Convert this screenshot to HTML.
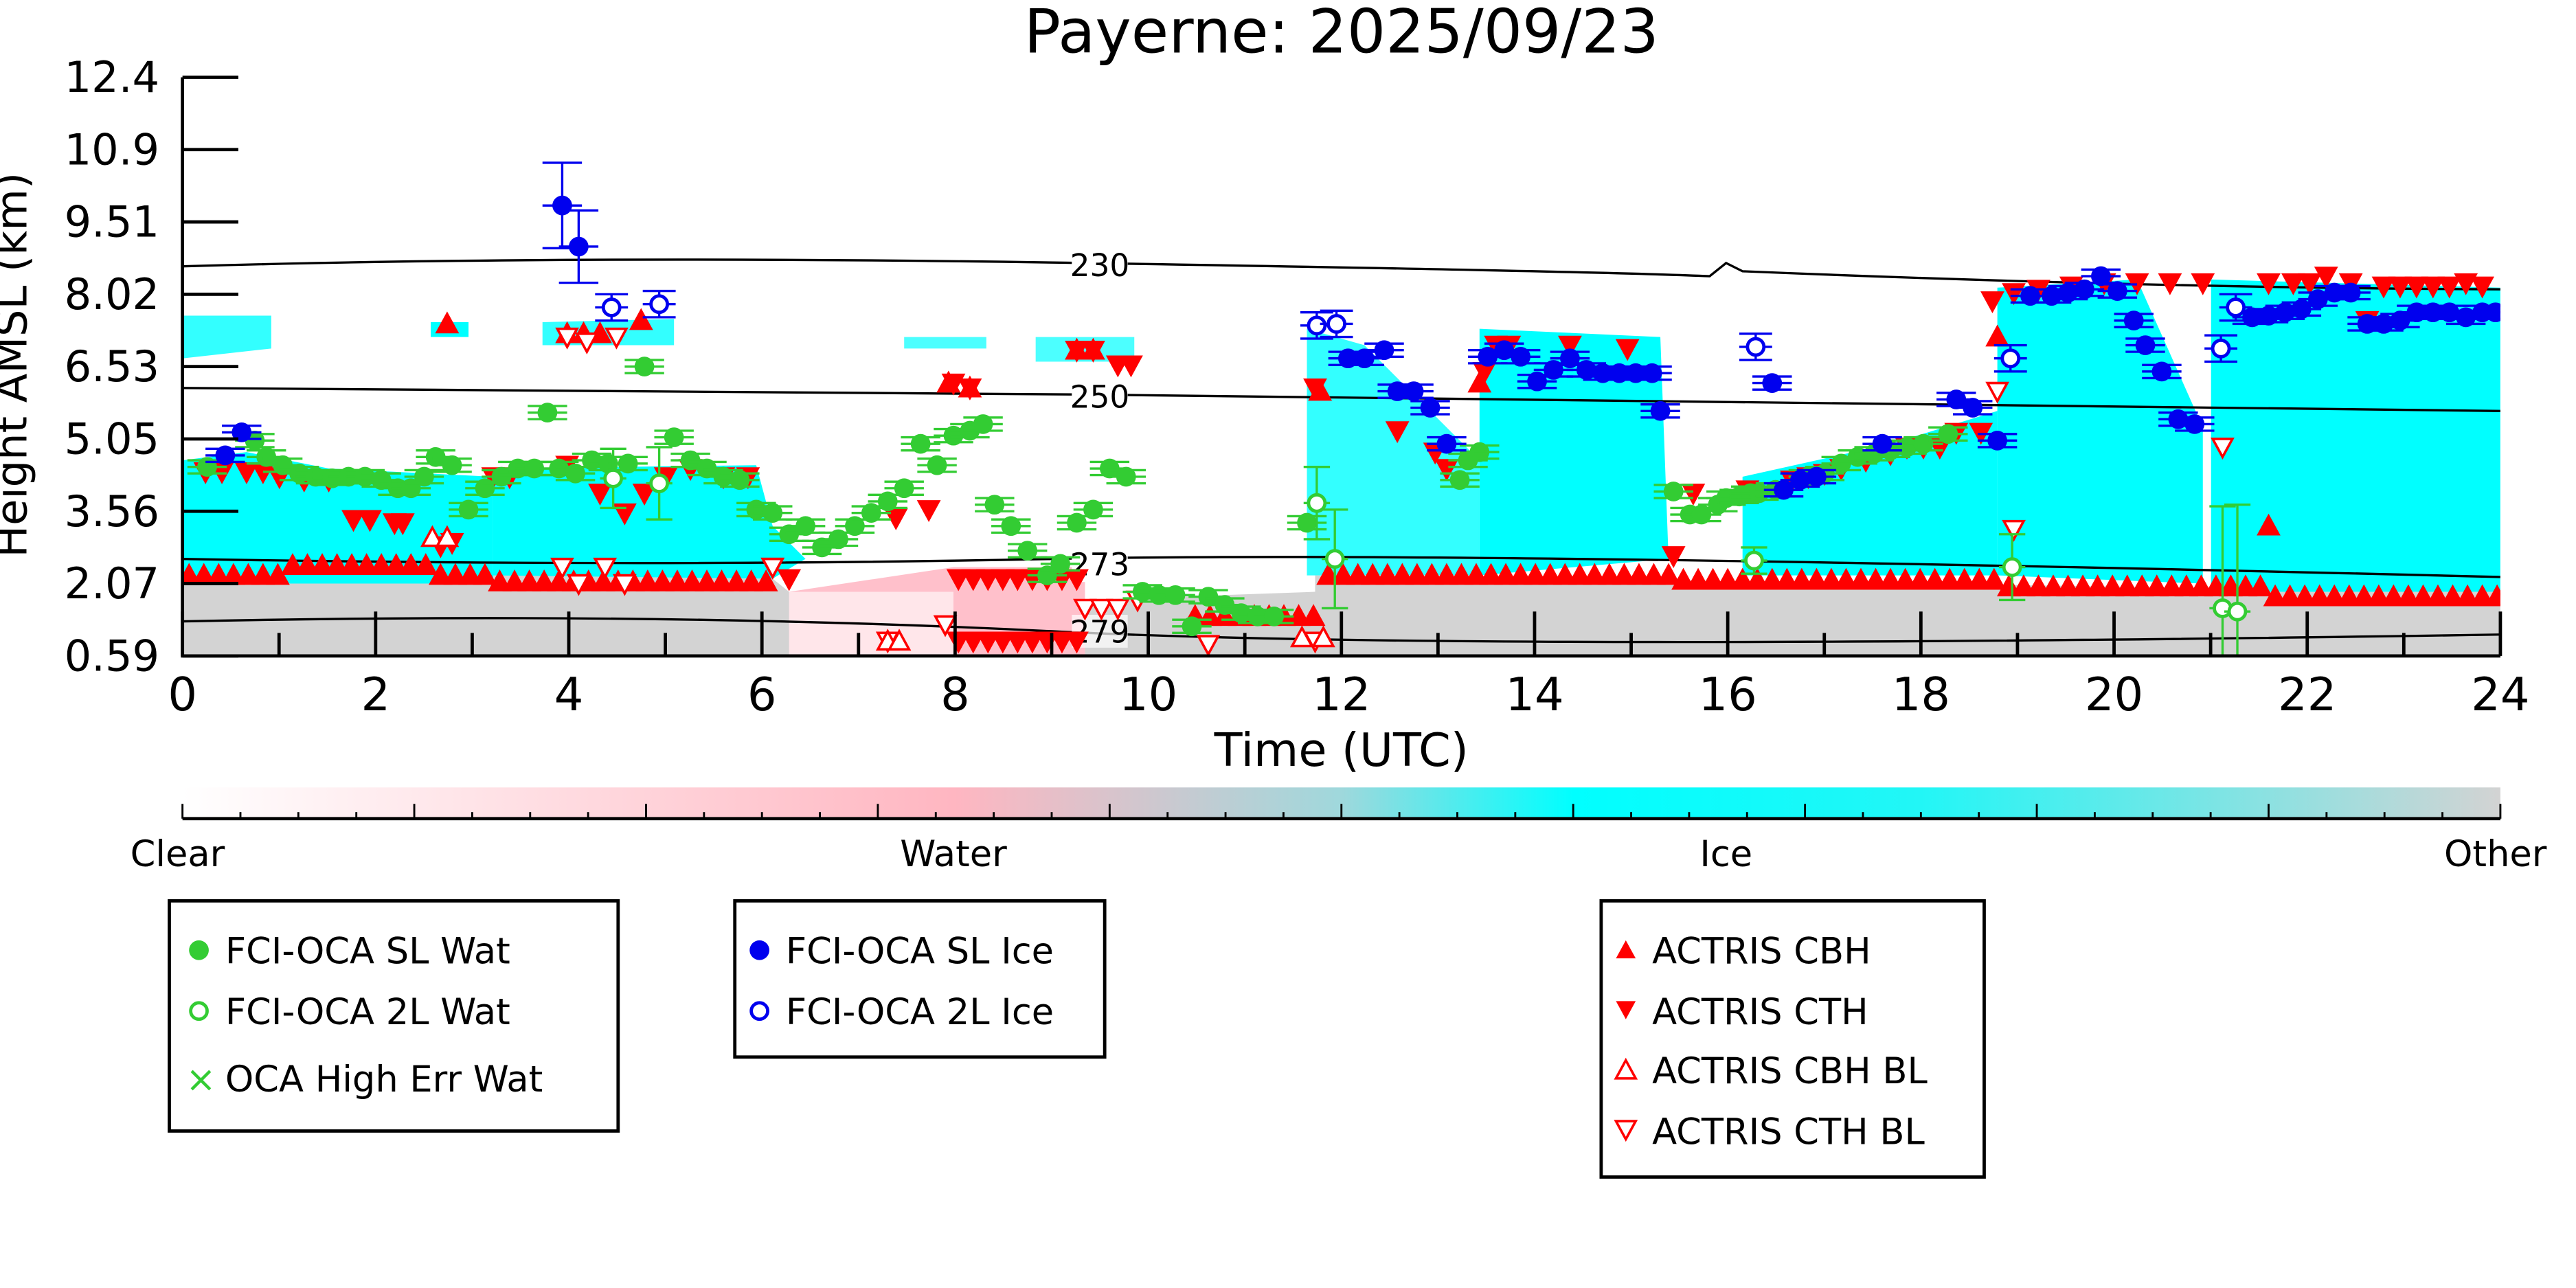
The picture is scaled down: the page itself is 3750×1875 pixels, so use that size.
<!DOCTYPE html>
<html><head><meta charset="utf-8"><style>html,body{margin:0;padding:0;background:#fff}svg{display:block}text{font-family:"DejaVu Sans","Liberation Sans",sans-serif}</style></head>
<body>
<svg id="s" xmlns="http://www.w3.org/2000/svg" width="3750" height="1875" viewBox="0 0 1567 783.5">
<defs>
<linearGradient id="cb" x1="0" x2="1">
<stop offset="0" stop-color="#ffffff"/><stop offset="0.333" stop-color="#ffb6c1"/><stop offset="0.5" stop-color="#9fd8dc"/><stop offset="0.6" stop-color="#00ffff"/><stop offset="0.75" stop-color="#22f6f6"/><stop offset="1" stop-color="#d3d3d3"/>
</linearGradient>
<clipPath id="pc"><rect x="111" y="47" width="1410" height="352"/></clipPath>
</defs>
<text x="816" y="32" font-size="37" text-anchor="middle">Payerne: 2025/09/23</text>
<g clip-path="url(#pc)">
<path d="M111,352 L300,350 L300,345 L470,352 L480,360 L580,360 L580,399 L111,399Z" fill="#d3d3d3"/>
<path d="M480,360 L580,345 L660,345 L660,399 L480,399Z" fill="#ffc0cb"/>
<path d="M660,365 L800,360 L800,350 L1521,360 L1521,399 L660,399Z" fill="#d3d3d3"/>
<rect x="480" y="360" width="100" height="39" fill="#fff" opacity="0.6"/>
<g fill="#00ffff">
<path d="M111,280 L150,275 L200,285 L300,290 L300,355 L111,355Z"/>
<path d="M111,192 L165,192 L165,212 L111,218Z" opacity="0.8"/>
<path d="M262,196 L285,196 L285,205 L262,205Z"/>
<path d="M330,196 L410,194 L410,210 L330,210Z" opacity="0.8"/>
<path d="M300,285 L460,283 L470,320 L490,340 L470,352 L300,350Z"/>
<path d="M550,205 L600,205 L600,212 L550,212Z" opacity="0.7"/>
<path d="M630,205 L690,205 L690,220 L630,220Z" opacity="0.7"/>
<path d="M795,200 L830,210 L870,250 L900,280 L900,350 L795,350Z" opacity="0.8"/>
<path d="M900,200 L1010,205 L1015,340 L900,350Z"/>
<path d="M1060,290 L1150,270 L1215,250 L1215,350 L1060,350Z"/>
<path d="M1215,175 L1300,170 L1340,260 L1340,355 L1215,350Z"/>
<path d="M1345,170 L1521,175 L1521,360 L1345,360Z"/>
</g>
<g fill="none" stroke="#000" stroke-width="1.4">
<path d="M111,162 Q350,155 660,160 T1040,168 L1050,160 L1060,165 Q1300,175 1521,176"/>
<path d="M111,236 Q400,238 660,240 T1521,250"/>
<path d="M111,340 Q400,345 640,340 T1521,351"/>
<path d="M111,378 Q400,372 640,384 T1521,386"/>
</g>
<g font-size="19" text-anchor="middle">
<rect x="652" y="150" width="34" height="22" fill="#fff"/><text x="669" y="168">230</text>
<rect x="652" y="230" width="34" height="22" fill="#fff"/><text x="669" y="248">250</text>
<rect x="652" y="332" width="34" height="22" fill="#fff"/><text x="669" y="350">273</text>
<rect x="652" y="374" width="34" height="20" fill="#fff" opacity="0.7"/><text x="669" y="391">279</text>
</g>
<g id="mk"></g>
</g>
<g stroke="#000" stroke-width="2" fill="none">
<path d="M111,47 L111,399 L1521,399"/>
</g>
<g id="ax"></g>
<text x="816" y="466" font-size="28" text-anchor="middle">Time (UTC)</text>
<text transform="translate(16,222) rotate(-90)" font-size="26" text-anchor="middle">Height AMSL (km)</text>
<rect x="111" y="479" width="1410" height="18" fill="url(#cb)"/>
<path d="M111,498 L1521,498" stroke="#000" stroke-width="2"/>
<g id="cbt"></g>
<g font-size="22" text-anchor="middle">
<text x="108" y="527">Clear</text><text x="580" y="527">Water</text><text x="1050" y="527">Ice</text><text x="1518" y="527">Other</text>
</g>
<g fill="none" stroke="#000" stroke-width="2">
<rect x="103" y="548" width="273" height="140"/>
<rect x="447" y="548" width="225" height="95"/>
<rect x="974" y="548" width="233" height="168"/>
</g>
<g font-size="22">
<circle cx="121" cy="578" r="6" fill="#33cc33"/><text x="137" y="586">FCI-OCA SL Wat</text>
<circle cx="121" cy="615" r="5" fill="none" stroke="#33cc33" stroke-width="2"/><text x="137" y="623">FCI-OCA 2L Wat</text>
<text x="113" y="664" fill="#33cc33" font-size="22">×</text><text x="137" y="664">OCA High Err Wat</text>
<circle cx="462" cy="578" r="6" fill="#0000ee"/><text x="478" y="586">FCI-OCA SL Ice</text>
<circle cx="462" cy="615" r="5" fill="none" stroke="#0000ee" stroke-width="2"/><text x="478" y="623">FCI-OCA 2L Ice</text>
<path d="M989,572 L995,583 L983,583Z" fill="red"/><text x="1005" y="586">ACTRIS CBH</text>
<path d="M983,609 L995,609 L989,620Z" fill="red"/><text x="1005" y="623">ACTRIS CTH</text>
<path d="M989,645 L995,656 L983,656Z" fill="none" stroke="red" stroke-width="1.5"/><text x="1005" y="659">ACTRIS CBH BL</text>
<path d="M983,682 L995,682 L989,693Z" fill="none" stroke="red" stroke-width="1.5"/><text x="1005" y="696">ACTRIS CTH BL</text>
</g>
<script>
(function(){
var NS="http://www.w3.org/2000/svg";
function el(p,t,a,txt){var e=document.createElementNS(NS,t);for(var k in a)e.setAttribute(k,a[k]);if(txt)e.textContent=txt;p.appendChild(e);return e;}
var ax=document.getElementById('ax');
var yl=["12.4","10.9","9.51","8.02","6.53","5.05","3.56","2.07","0.59"];
for(var i=0;i<9;i++){var y=47+i*44;el(ax,'line',{x1:111,x2:145,y1:y,y2:y,stroke:'#000','stroke-width':2});
el(ax,'text',{x:97,y:y+9,'font-size':26,'text-anchor':'end'},yl[i]);}
for(var t=0;t<=24;t++){var x=111+58.75*t;var maj=t%2==0;
el(ax,'line',{x1:x,x2:x,y1:399,y2:maj?372:385,stroke:'#000','stroke-width':2});
if(maj)el(ax,'text',{x:x,y:432,'font-size':28,'text-anchor':'middle'},""+t);}
var cb=document.getElementById('cbt');
for(var i=0;i<=40;i++){var x=111+1410*i/40;el(cb,'line',{x1:x,x2:x,y1:498,y2:i%4==0?489:494,stroke:'#000','stroke-width':1.2});}
var m=document.getElementById('mk');
function up(x,y,f){el(m,'path',{d:'M'+x+','+(y-6)+' L'+(x+6)+','+(y+5)+' L'+(x-6)+','+(y+5)+'Z',fill:f?'red':'#fff',stroke:'red','stroke-width':1.5});}
function dn(x,y,f){el(m,'path',{d:'M'+(x-6)+','+(y-5)+' L'+(x+6)+','+(y-5)+' L'+x+','+(y+6)+'Z',fill:f?'red':'#fff',stroke:'red','stroke-width':1.5});}
function err(x,y,c,e,h){el(m,'path',{d:'M'+(x-h)+','+y+' L'+(x+h)+','+y+' M'+x+','+(y-e)+' L'+x+','+(y+e)+' M'+(x-h)+','+(y-e)+' L'+(x+h)+','+(y-e)+' M'+(x-h)+','+(y+e)+' L'+(x+h)+','+(y+e),stroke:c,'stroke-width':1.4,fill:'none'});}
for(var x=115;x<1521;x+=9){
 if(x>470&&x<575)continue; if(x>660&&x<720)continue;
 var y= x<300?350-(x>170&&x<260?6:0): x<470?354: x<800?375: x<1020?350:(x<1215?353:(x<1380?357:363));
 if(x>575&&x<660){dn(x,352,true);dn(x,390,true);continue;}
 up(x,y,true);}
var cth=[[125,287],[135,287],[150,287],[160,287],[170,290],[185,292],[200,292],[215,316],[225,316],[240,318],[245,318],[268,332],[275,330],[300,290],[310,290],[345,283],[365,300],[380,312],[392,300],[405,290],[420,285],[440,290],[455,290],[470,345],[480,352],[545,315],[565,310],[580,233],[590,236],[655,213],[665,213],[680,222],[688,222],[800,236],[850,262],[873,275],[880,285],[903,226],[910,210],[918,210],[955,210],[990,212],[1018,338],[1030,300],[1063,298],[1090,292],[1100,290],[1110,288],[1120,285],[1135,280],[1150,276],[1160,272],[1170,272],[1180,272],[1190,263],[1205,263],[1212,183],[1225,178],[1240,176],[1260,174],[1280,172],[1300,172],[1320,172],[1340,172],[1380,172],[1395,172],[1405,172],[1415,168],[1430,172],[1440,195],[1450,174],[1460,174],[1470,174],[1480,174],[1490,174],[1500,172],[1510,174]];
cth.forEach(function(p){dn(p[0],p[1],true);});
[[272,197],[345,203],[355,203],[365,203],[390,195],[577,233],[590,236],[655,213],[665,213],[803,238],[900,233],[1380,320],[1215,205]].forEach(function(p){up(p[0],p[1],true);});
[[345,205],[357,208],[375,205],[342,345],[352,355],[368,345],[380,355],[470,345],[540,390],[575,380],[660,370],[670,370],[680,370],[692,365],[735,392],[800,390],[1215,238],[1225,322],[1352,272]].forEach(function(p){dn(p[0],p[1],false);});
[[263,327],[272,327],[540,390],[547,390],[792,388],[805,388]].forEach(function(p){up(p[0],p[1],false);});
var gs=[[126,284],[155,268],[162,278],[172,283],[182,288],[192,290],[202,291],[212,290],[222,290],[232,292],[242,297],[250,297],[258,290],[265,278],[275,283],[285,310],[295,297],[305,290],[315,285],[325,285],[333,251],[340,285],[350,288],[360,280],[370,282],[382,282],[392,223],[410,266],[420,280],[430,285],[440,290],[450,292],[460,310],[470,312],[480,325],[490,320],[500,333],[510,328],[520,320],[530,312],[540,305],[550,297],[560,270],[570,283],[580,265],[590,262],[598,258],[605,307],[615,320],[625,335],[637,350],[645,343],[655,318],[665,310],[675,285],[685,290],[695,360],[705,362],[715,362],[725,381],[735,363],[745,368],[755,373],[765,375],[775,375],[795,318],[900,275],[893,280],[888,292],[1018,299],[1028,313],[1035,313],[1045,307],[1050,303],[1058,302],[1065,300],[1070,300],[1080,298],[1100,290],[1110,288],[1120,282],[1130,278],[1140,276],[1150,274],[1160,272],[1170,270],[1185,264]];
gs.forEach(function(p){err(p[0],p[1],'#33cc33',4,12);el(m,'circle',{cx:p[0],cy:p[1],r:6,fill:'#33cc33'});});
[[373,291,18],[401,294,22],[801,306,22],[812,340,30],[1067,341,8],[1224,345,20],[1352,370,62],[1361,372,65]].forEach(function(p){err(p[0],p[1],'#33cc33',p[2],8);el(m,'circle',{cx:p[0],cy:p[1],r:5,fill:'#fff',stroke:'#33cc33','stroke-width':2});});
var bs=[[137,277],[147,263],[342,125],[352,150],[820,218],[830,218],[842,213],[850,238],[860,238],[870,248],[880,270],[905,217],[915,213],[925,217],[935,232],[945,225],[955,218],[965,225],[975,227],[985,227],[995,227],[1005,227],[1010,250],[1078,233],[1085,298],[1095,292],[1105,290],[1145,270],[1190,243],[1200,248],[1215,268],[1235,180],[1248,180],[1258,178],[1268,176],[1278,168],[1288,177],[1298,195],[1305,210],[1315,226],[1325,255],[1335,258],[1370,193],[1380,192],[1390,190],[1400,188],[1410,182],[1420,178],[1430,178],[1440,197],[1450,197],[1460,195],[1470,190],[1480,190],[1490,190],[1500,193],[1510,190],[1518,190]];
bs.forEach(function(p,i){err(p[0],p[1],'#0000ee',i==2?26:(i==3?22:4),12);el(m,'circle',{cx:p[0],cy:p[1],r:6,fill:'#0000ee'});});
[[372,187],[401,185],[801,198],[813,197],[1068,211],[1223,218],[1351,212],[1360,187]].forEach(function(p){err(p[0],p[1],'#0000ee',8,10);el(m,'circle',{cx:p[0],cy:p[1],r:5,fill:'#fff',stroke:'#0000ee','stroke-width':2});});
})();
</script>
</svg>
</body></html>
